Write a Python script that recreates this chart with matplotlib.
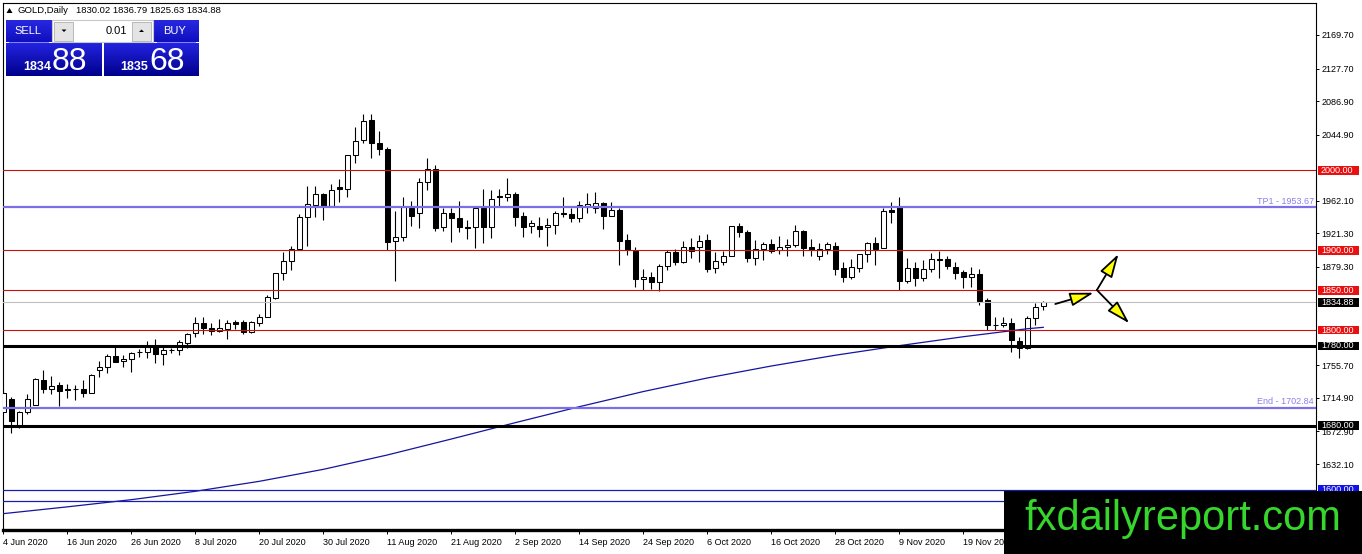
import matplotlib
matplotlib.use("Agg")
import matplotlib.pyplot as plt
import numpy as np
from matplotlib.patches import Rectangle, Polygon

plt.rcParams['font.family'] = ['Liberation Sans', 'DejaVu Sans']

# ---------------- data ----------------
opens = [1697.7, 1713.5, 1678.9, 1696.8, 1706.0, 1736.9, 1726.5, 1730.7, 1726.1, 1725.5,
         1726.1, 1721.5, 1749.5, 1753.2, 1767.0, 1760.7, 1763.2, 1772.2, 1772.4, 1779.1,
         1769.5, 1774.5, 1774.5, 1783.3, 1795.9, 1808.4, 1802.1, 1798.8, 1801.7, 1810.0,
         1810.5, 1797.1, 1809.2, 1816.7, 1840.1, 1871.0, 1886.9, 1901.5, 1941.2, 1957.1,
         1970.0, 1955.4, 1978.8, 1976.3, 2018.9, 2038.1, 2063.2, 2034.8, 2026.8, 1911.6,
         1916.1, 1953.3, 1947.0, 1985.9, 2001.3, 1928.7, 1946.2, 1940.0, 1929.5, 1928.7,
         1953.3, 1928.7, 1967.9, 1967.1, 1970.0, 1942.9, 1930.3, 1930.3, 1928.7, 1931.6,
         1947.0, 1945.4, 1939.9, 1955.4, 1952.5, 1958.8, 1943.3, 1950.4, 1912.8, 1899.4,
         1864.3, 1866.8, 1860.6, 1880.6, 1898.2, 1884.8, 1904.4, 1904.4, 1912.8, 1877.3,
         1885.6, 1893.2, 1930.3, 1922.4, 1890.7, 1901.1, 1907.8, 1900.3, 1903.6, 1906.1,
         1924.1, 1903.6, 1892.8, 1901.1, 1905.7, 1877.3, 1866.8, 1877.3, 1895.3, 1909.5,
         1902.4, 1950.4, 1953.7, 1861.8, 1877.3, 1864.8, 1876.0, 1888.6, 1888.6, 1879.4,
         1873.1, 1866.0, 1869.8, 1837.6, 1806.3, 1806.3, 1809.2, 1786.6, 1777.0, 1814.6,
         1830.02]
highs = [1724.8, 1715.6, 1698.5, 1719.8, 1739.4, 1749.9, 1742.4, 1734.8, 1731.9, 1731.1,
         1737.3, 1744.4, 1761.6, 1769.5, 1779.1, 1768.7, 1772.8, 1776.6, 1786.2, 1788.7,
         1779.1, 1777.0, 1787.5, 1796.7, 1816.7, 1816.7, 1809.2, 1813.8, 1812.5, 1812.5,
         1812.5, 1811.7, 1819.7, 1843.9, 1871.9, 1897.3, 1905.7, 1945.0, 1980.5, 1980.5,
         1972.1, 1983.0, 1989.2, 2019.5, 2054.8, 2070.7, 2070.7, 2049.4, 2029.8, 1949.1,
         1966.3, 1961.7, 1990.1, 2015.1, 2006.8, 1953.3, 1953.3, 1961.7, 1937.9, 1953.8,
         1976.3, 1975.5, 1976.3, 1990.9, 1972.5, 1948.3, 1937.9, 1942.0, 1940.8, 1949.1,
         1967.1, 1952.5, 1961.7, 1971.3, 1972.5, 1960.8, 1960.0, 1952.5, 1919.9, 1904.4,
         1876.5, 1873.1, 1882.3, 1900.3, 1901.5, 1911.6, 1915.7, 1919.1, 1920.3, 1898.2,
         1899.0, 1930.8, 1933.7, 1925.3, 1912.8, 1910.7, 1914.1, 1917.8, 1913.6, 1931.6,
         1925.3, 1913.6, 1908.6, 1910.7, 1910.7, 1885.6, 1889.0, 1895.8, 1910.7, 1916.1,
         1952.5, 1960.8, 1966.3, 1889.8, 1885.6, 1887.7, 1896.9, 1899.0, 1892.7, 1885.6,
         1875.2, 1879.4, 1876.0, 1839.7, 1816.7, 1816.7, 1814.6, 1791.7, 1817.6, 1833.4,
         1836.79]
lows = [1696.4, 1670.5, 1676.8, 1694.7, 1706.0, 1720.6, 1719.8, 1704.8, 1715.2, 1712.3,
        1716.5, 1720.6, 1741.5, 1746.5, 1759.5, 1753.2, 1747.4, 1766.6, 1764.5, 1758.2,
        1756.1, 1771.6, 1768.7, 1777.0, 1790.8, 1794.6, 1793.4, 1797.1, 1789.2, 1801.7,
        1794.6, 1795.9, 1805.5, 1815.9, 1838.9, 1862.7, 1875.2, 1901.5, 1905.7, 1941.2,
        1937.9, 1955.4, 1960.0, 1967.1, 2008.9, 2033.9, 2015.1, 2019.3, 1900.3, 1861.4,
        1912.0, 1930.8, 1928.3, 1975.5, 1924.1, 1924.5, 1910.7, 1923.2, 1913.6, 1902.4,
        1909.5, 1914.9, 1955.4, 1961.7, 1930.8, 1917.0, 1922.0, 1917.0, 1905.3, 1919.9,
        1941.2, 1935.8, 1935.8, 1947.0, 1947.0, 1926.2, 1943.3, 1881.5, 1894.0, 1854.3,
        1850.1, 1851.0, 1849.3, 1875.2, 1881.5, 1883.6, 1889.8, 1885.6, 1873.1, 1871.9,
        1881.5, 1893.2, 1917.0, 1885.6, 1881.5, 1887.7, 1896.9, 1895.3, 1892.8, 1904.4,
        1892.8, 1892.8, 1887.7, 1895.3, 1868.9, 1860.6, 1863.5, 1873.1, 1885.6, 1881.5,
        1902.4, 1934.5, 1850.1, 1858.5, 1855.1, 1861.8, 1873.1, 1864.8, 1876.0, 1863.5,
        1852.2, 1854.3, 1831.3, 1800.0, 1800.0, 1804.2, 1772.9, 1764.5, 1775.8, 1806.3,
        1825.63]
closes = [1720.6, 1686.0, 1696.8, 1713.1, 1738.2, 1726.5, 1729.8, 1724.0, 1724.8, 1725.7,
          1721.5, 1743.6, 1753.2, 1767.0, 1759.5, 1763.7, 1771.6, 1772.5, 1779.1, 1769.5,
          1774.5, 1774.8, 1784.5, 1794.6, 1808.4, 1802.9, 1798.8, 1802.1, 1808.4, 1808.0,
          1797.1, 1809.6, 1816.7, 1841.0, 1871.0, 1886.9, 1901.1, 1941.2, 1957.9, 1970.0,
          1955.4, 1975.5, 1976.3, 2018.9, 2037.3, 2061.9, 2033.9, 2026.4, 1910.7, 1916.1,
          1953.7, 1943.3, 1985.9, 2001.3, 1928.3, 1946.2, 1940.0, 1928.7, 1927.8, 1953.3,
          1928.7, 1964.2, 1966.3, 1970.0, 1942.0, 1929.5, 1933.7, 1927.0, 1931.6, 1946.2,
          1945.0, 1939.9, 1956.7, 1957.5, 1958.8, 1943.3, 1950.4, 1912.0, 1900.3, 1863.5,
          1866.8, 1860.6, 1880.6, 1898.2, 1884.8, 1904.4, 1899.0, 1912.0, 1876.0, 1886.5,
          1892.8, 1930.3, 1922.4, 1890.7, 1901.1, 1907.8, 1899.0, 1903.6, 1906.1, 1924.1,
          1903.2, 1900.3, 1901.1, 1907.4, 1876.0, 1866.0, 1878.5, 1895.3, 1909.5, 1901.1,
          1949.1, 1948.3, 1861.8, 1877.3, 1864.8, 1876.0, 1888.6, 1888.3, 1880.2, 1871.0,
          1866.0, 1869.8, 1836.8, 1806.3, 1806.0, 1809.2, 1787.5, 1777.0, 1814.6, 1829.3,
          1834.88]

# moving average at some bars
ma_idx = [0, 8, 16, 24, 32, 40, 48, 56, 64, 72, 80, 88, 96, 104, 112, 120, 128, 130]
ma_val = [1569.9, 1578.4, 1587.4, 1597.9, 1610.4, 1625.4, 1643.4, 1663.4, 1683.9, 1703.9,
          1722.9, 1739.9, 1754.9, 1768.4, 1780.4, 1791.6, 1801.6, 1803.4]

date_labels = ['4 Jun 2020', '16 Jun 2020', '26 Jun 2020', '8 Jul 2020', '20 Jul 2020',
               '30 Jul 2020', '11 Aug 2020', '21 Aug 2020', '2 Sep 2020', '14 Sep 2020',
               '24 Sep 2020', '6 Oct 2020', '16 Oct 2020', '28 Oct 2020', '9 Nov 2020',
               '19 Nov 2020', '1 Dec 2020']
price_ticks = [2169.70, 2127.70, 2086.90, 2044.90, 1962.10, 1921.30, 1879.30,
               1755.70, 1714.90, 1672.90, 1632.10]

# horizontal levels: price, kind
level_prices = [2000.00, 1953.67, 1900.00, 1850.00, 1834.88, 1800.00, 1780.00, 1702.84,
                1680.00, 1600.00, 1585.70]
level_kinds = ['red', 'purple', 'red', 'red', 'gray', 'red', 'black', 'purple',
               'black', 'blue', 'blue']
level_boxes = {2000.00: '#e81010', 1900.00: '#e81010', 1850.00: '#e81010',
               1834.88: '#000000', 1800.00: '#e81010', 1780.00: '#000000',
               1680.00: '#000000', 1600.00: '#1010e8'}
level_notes = {1953.67: 'TP1 - 1953.67', 1702.84: 'End - 1702.84'}

# scenario arrows (bar index, price)
arrow_from = [(131.5, 1832.6), (136.7, 1850.1), (136.7, 1850.1)]
arrow_to = [(136.3, 1846.7), (139.4, 1895.3), (140.75, 1808.4)]

header_ohlc = '1830.02 1836.79 1825.63 1834.88'
bid_big, bid_small = '88', '1834'
ask_big, ask_small = '68', '1835'
lot = '0.01'

# ---------------- layout ----------------
W, H = 1362, 554
fig = plt.figure(figsize=(W / 100, H / 100), dpi=100)
L, R, T, B = 3, 1316, 3, 530
ax = fig.add_axes([L / W, (H - B) / H, (R - L) / W, (B - T) / H])
ax.set_xlim(-0.04, 164.09)
ax.set_ylim(1549.4, 2209.8)

n = len(opens)
idx = np.arange(n)
o = np.array(opens); c = np.array(closes); h = np.array(highs); lo = np.array(lows)
up = c >= o

ax.vlines(idx, lo, h, color='black', lw=0.8, zorder=3)
ax.bar(idx, np.maximum(np.abs(c - o), 0.35), bottom=np.minimum(o, c), width=0.62,
       color=np.where(up, 'white', 'black'), edgecolor='black', linewidth=0.75, zorder=4)

ax.plot(ma_idx, ma_val, color='#1414a0', lw=0.9, zorder=4.5, solid_joinstyle='round')

styles = {'red': dict(color='#cc1010', lw=0.8),
          'purple': dict(color='#7b6ee8', lw=1.6),
          'gray': dict(color='#c0c0c0', lw=0.8),
          'black': dict(color='black', lw=2.2),
          'blue': dict(color='#1a1ab4', lw=0.9)}
for p, k in zip(level_prices, level_kinds):
    ax.axhline(p, zorder=5, **styles[k])

yt = ax.get_yaxis_transform()
for p, col in level_boxes.items():
    ax.add_patch(Rectangle((1 + 2 / 1313, p - 5.6), 41 / 1313, 11.2, transform=yt,
                           facecolor=col, edgecolor='none', clip_on=False, zorder=20))
    ax.text(1 + 5 / 1313, p, f'{p:.2f}', transform=yt, ha='left', va='center',
            color='white', fontsize=6.5, clip_on=False, zorder=21)
for p, txt in level_notes.items():
    ax.text(1 - 2 / 1313, p + 1.6, txt, transform=yt, ha='right', va='bottom',
            color='#8a80ea', fontsize=6.5, zorder=6)

for (x0, y0), (x1, y1) in zip(arrow_from, arrow_to):
    ax.annotate('', xy=(x1, y1), xytext=(x0, y0), annotation_clip=False,
                arrowprops=dict(arrowstyle='-|>,head_length=1.45,head_width=0.42',
                                fc='#ffff00', ec='black', lw=1.3, shrinkA=0, shrinkB=0,
                                mutation_scale=10), zorder=7)

# axes styling
for s in ['left', 'top', 'right']:
    ax.spines[s].set_linewidth(0.8)
ax.spines['bottom'].set_linewidth(2.4)
ax.yaxis.tick_right()
ax.set_yticks(price_ticks)
ax.set_yticklabels([f'{v:.2f}' for v in price_ticks])
ax.tick_params(axis='y', direction='out', length=2.5, width=0.7, pad=1.5, labelsize=6.5)
ax.set_xticks(np.arange(0, 8 * len(date_labels), 8))
ax.set_xticklabels(date_labels)
ax.tick_params(axis='x', direction='out', length=3, width=0.7, pad=3, labelsize=6.5)
for lab in ax.get_xticklabels():
    lab.set_ha('left')

# ---------------- overlay (header, trade panel, watermark) ----------------
ov = fig.add_axes([0, 0, 1, 1], zorder=10)
ov.set_xlim(0, W); ov.set_ylim(H, 0)
ov.axis('off'); ov.patch.set_alpha(0)

ov.add_patch(Polygon([(6.5, 13), (12.5, 13), (9.5, 8)], closed=True, fc='black', ec='none'))
ov.text(17, 10.5, 'GOLD,Daily', fontsize=6.8, va='center', ha='left')
ov.text(76, 10.5, header_ohlc, fontsize=6.8, va='center', ha='left')

def grad_box(x0, y0, x1, y1, top, bot):
    g = np.linspace(0, 1, 64)[:, None, None]
    img = (np.array(top)[None, None, :] * (1 - g) + np.array(bot)[None, None, :] * g) / 255.0
    ov.imshow(img, extent=[x0, x1, y1, y0], aspect='auto', interpolation='bilinear', zorder=1)

grad_box(6, 20, 52, 42, (40, 40, 225), (15, 15, 190))
grad_box(153, 20, 199, 42, (40, 40, 225), (15, 15, 190))
grad_box(6, 43, 102, 76, (35, 35, 225), (0, 0, 140))
grad_box(104, 43, 199, 76, (35, 35, 225), (0, 0, 140))
ov.set_xlim(0, W); ov.set_ylim(H, 0)
ov.plot([9, 48], [41.5, 41.5], color='#8080ff', lw=0.7, zorder=2)
ov.plot([157, 195], [41.5, 41.5], color='#8080ff', lw=0.7, zorder=2)

ov.add_patch(Rectangle((52, 20), 101, 22, fc='white', ec='#c8c8c8', lw=0.8, zorder=2))
ov.add_patch(Rectangle((54, 21.5), 19, 19, fc='#e4e4e4', ec='#b0b0b0', lw=0.6, zorder=3))
ov.add_patch(Rectangle((132, 21.5), 19, 19, fc='#e4e4e4', ec='#b0b0b0', lw=0.6, zorder=3))
ov.add_patch(Polygon([(61.5, 29.5), (66.5, 29.5), (64, 32)], closed=True, fc='black', zorder=4))
ov.add_patch(Polygon([(139, 32), (144, 32), (141.5, 29.5)], closed=True, fc='black', zorder=4))
ov.text(127.5, 31, lot, fontsize=8, ha='right', va='center', zorder=4)
ov.text(28, 31, 'SELL', fontsize=8, color='white', ha='center', va='center', zorder=4)
ov.text(175, 31, 'BUY', fontsize=8, color='white', ha='center', va='center', zorder=4)

ov.text(23, 70, bid_small, fontsize=9, fontweight='bold', color='white', ha='left',
        va='baseline', zorder=4)
ov.text(52, 70, bid_big, fontsize=23, color='white', ha='left', va='baseline', zorder=4)
ov.text(120, 70, ask_small, fontsize=9, fontweight='bold', color='white', ha='left',
        va='baseline', zorder=4)
ov.text(149, 70, ask_big, fontsize=23, color='white', ha='left', va='baseline', zorder=4)

ov.add_patch(Rectangle((1004, 491), W - 1004, H - 491, fc='black', ec='none', zorder=5))
ov.text(1182.5, 530, 'fxdailyreport.com', fontsize=30, color='#36d62c', ha='center',
        va='baseline', zorder=6)

fig.savefig('out.png', dpi=100)
